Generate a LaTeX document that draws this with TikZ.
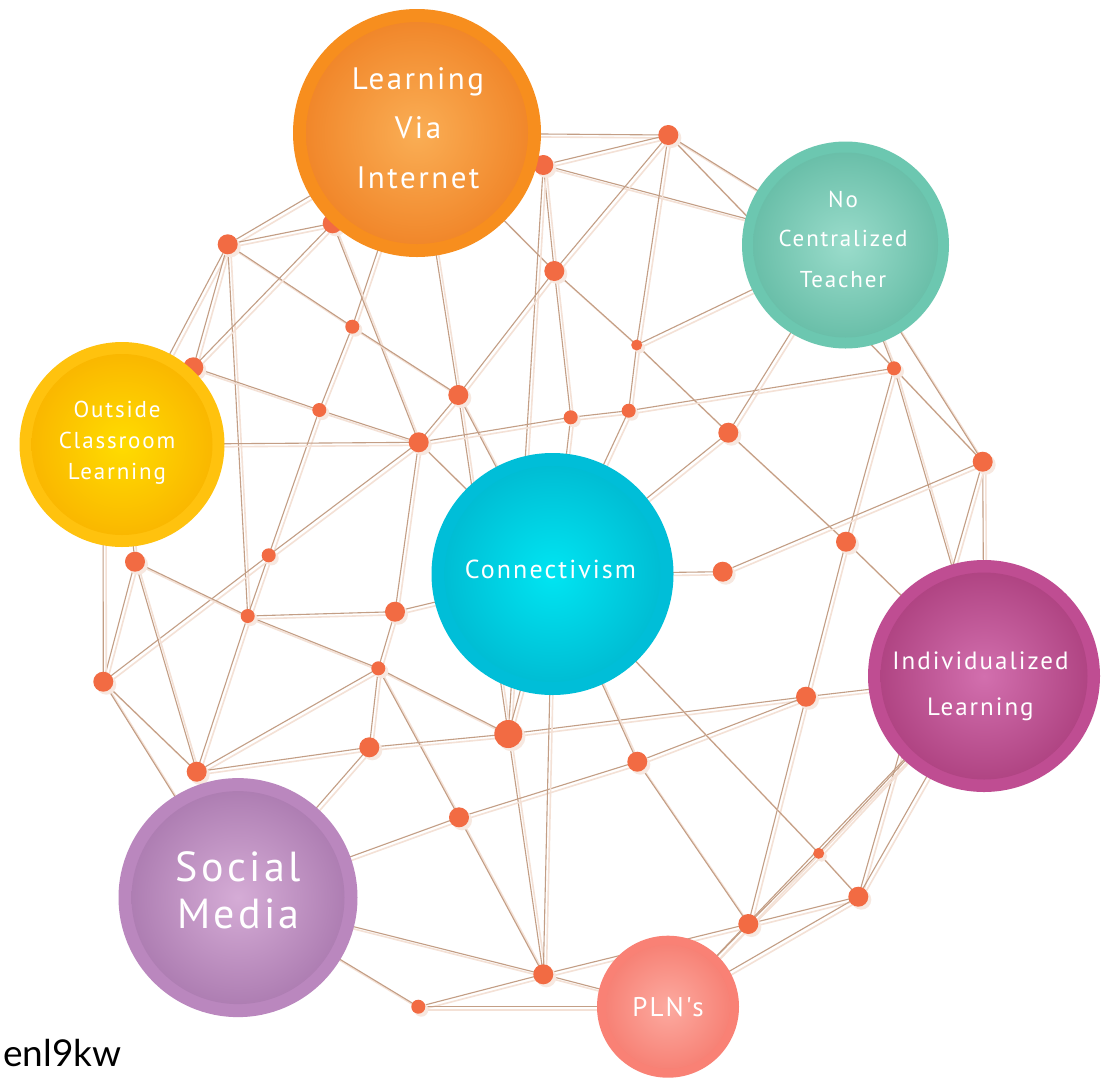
\documentclass[tikz,border=0pt]{standalone}
\usepackage{fontspec}
\setmainfont{PT Sans}
\newfontfamily\labfont[LetterSpace=8]{PT Sans}
\newfontfamily\tagfont{Lato}
\usetikzlibrary{shadows}
\pgfdeclarelayer{links}
\pgfdeclarelayer{balls}
\pgfsetlayers{links,main,balls}

\definecolor{edgec}{HTML}{C39E85}
\definecolor{edgesh}{HTML}{F4E1D6}
\definecolor{dotc}{HTML}{F26B43}
\definecolor{dotsh}{HTML}{F7E8E0}
\definecolor{lviR}{HTML}{F78E1E}\definecolor{lviA}{HTML}{FAAE55}\definecolor{lviB}{HTML}{E86000}
\definecolor{nctR}{HTML}{6CC7B0}\definecolor{nctA}{HTML}{9ADCCB}\definecolor{nctB}{HTML}{3AA287}
\definecolor{oclR}{HTML}{FFC20E}\definecolor{oclA}{HTML}{FFDC00}\definecolor{oclB}{HTML}{F59300}
\definecolor{conR}{HTML}{00BED8}\definecolor{conA}{HTML}{00E5F2}\definecolor{conB}{HTML}{0096B6}
\definecolor{ilR}{HTML}{BF4D92}\definecolor{ilA}{HTML}{D26FAE}\definecolor{ilB}{HTML}{8E1A58}
\definecolor{smR}{HTML}{BA87BE}\definecolor{smA}{HTML}{D5ACD6}\definecolor{smB}{HTML}{87508F}
\definecolor{plnR}{HTML}{F98175}\definecolor{plnA}{HTML}{FCAAA0}\definecolor{plnB}{HTML}{F25A4C}

\pgfdeclareradialshading{lviS}{\pgfpoint{0bp}{0bp}}{color(0bp)=(lviA); color(50bp)=(lviB)}
\pgfdeclareradialshading{nctS}{\pgfpoint{0bp}{0bp}}{color(0bp)=(nctA); color(50bp)=(nctB)}
\pgfdeclareradialshading{oclS}{\pgfpoint{0bp}{0bp}}{color(0bp)=(oclA); color(50bp)=(oclB)}
\pgfdeclareradialshading{conS}{\pgfpoint{0bp}{0bp}}{color(0bp)=(conA); color(50bp)=(conB)}
\pgfdeclareradialshading{ilS}{\pgfpoint{0bp}{0bp}}{color(0bp)=(ilA); color(50bp)=(ilB)}
\pgfdeclareradialshading{smS}{\pgfpoint{0bp}{0bp}}{color(0bp)=(smA); color(50bp)=(smB)}
\pgfdeclareradialshading{plnS}{\pgfpoint{0bp}{0bp}}{color(0bp)=(plnA); color(50bp)=(plnB)}

\tikzset{
  ring/.style={circle, inner sep=0pt, draw=none},
  disc/.style={circle, inner sep=0pt, draw=none},
  lab/.style={text=white, inner sep=0pt, anchor=base},
  dot/.style={circle, fill=dotc, inner sep=0pt, draw=none, minimum size=20pt,
    drop shadow={shadow xshift=3pt, shadow yshift=-3pt, fill=dotsh, opacity=1}},
  sdot/.style={dot, minimum size=14pt},
  xsdot/.style={dot, minimum size=11pt},
  edgeln/.style={draw=edgec, line width=1.1pt},
  shadowln/.style={draw=edgesh, line width=1.6pt},
}

\begin{document}
\begin{tikzpicture}[x=1pt,y=-1pt]
\useasboundingbox (0,0) rectangle (1106,1077);

% small dots
\node[dot]   (d1)  at (227.7,244.3) {};
\node[dot]   (d2)  at (332.7,223.3) {};
\node[dot]   (d3)  at (543.3,165) {};
\node[dot]   (d4)  at (668.3,135) {};
\node[dot]   (d5)  at (554.3,271) {};
\node[sdot]  (d6)  at (352.3,326.7) {};
\node[dot]   (d7)  at (193.3,367.3) {};
\node[dot]   (d8)  at (458.3,395) {};
\node[sdot]  (d9)  at (319.3,410) {};
\node[dot]   (d10) at (418.7,442.3) {};
\node[xsdot] (d11) at (636.7,345) {};
\node[sdot]  (d12) at (570.7,417.3) {};
\node[sdot]  (d13) at (628.7,410.7) {};
\node[dot]   (d14) at (728.3,432.7) {};
\node[sdot]  (d15) at (894,368.3) {};
\node[dot]   (d16) at (982.7,461.7) {};
\node[dot]   (d17) at (846,541.7) {};
\node[dot]   (d18) at (722.7,571.7) {};
\node[dot]   (d19) at (135,561.7) {};
\node[sdot]  (d20) at (268.7,555.3) {};
\node[sdot]  (d21) at (247.7,616) {};
\node[dot]   (d22) at (395,611.7) {};
\node[dot]   (d23) at (103.3,681.7) {};
\node[sdot]  (d24) at (378.3,668.3) {};
\node[dot, minimum size=28pt] (d25) at (508.3,734) {};
\node[dot]   (d26) at (369.3,747.3) {};
\node[dot]   (d27) at (196.7,771.7) {};
\node[dot]   (d28) at (459,817.3) {};
\node[dot]   (d29) at (637.3,761.7) {};
\node[dot]   (d30) at (806,696.7) {};
\node[xsdot] (d31) at (818.7,853.3) {};
\node[dot]   (d32) at (858.3,896.7) {};
\node[dot]   (d33) at (748.3,924) {};
\node[dot]   (d34) at (543.3,974.3) {};
\node[sdot]  (d35) at (418.3,1006.7) {};

\node[font=\tagfont\fontsize{37}{37}\selectfont, anchor=base west, inner sep=0pt] (tag) at (3,1066) {enl9kw};

% big circles
\begin{pgfonlayer}{balls}
\node[ring, fill=lviR, minimum size=248pt] (lvi) at (417,133) {};
\node[disc, shading=lviS, minimum size=222pt] (lviD) at (lvi.center) {};
\node[ring, fill=nctR, minimum size=207pt] (nct) at (845.5,245) {};
\node[disc, shading=nctS, minimum size=185pt] (nctD) at (nct.center) {};
\node[ring, fill=oclR, minimum size=205pt] (ocl) at (122,444.5) {};
\node[disc, shading=oclS, minimum size=181pt] (oclD) at (ocl.center) {};
\node[ring, fill=conR, minimum size=242pt] (con) at (552.5,574) {};
\node[disc, shading=conS, minimum size=216pt] (conD) at (con.center) {};
\node[ring, fill=ilR, minimum size=232pt] (il) at (984,676) {};
\node[disc, shading=ilS, minimum size=207pt] (ilD) at (il.center) {};
\node[ring, fill=smR, minimum size=239pt] (sm) at (238,897.6) {};
\node[disc, shading=smS, minimum size=213pt] (smD) at (sm.center) {};
\node[ring, fill=plnR, minimum size=142pt] (pln) at (668,1006.7) {};
\node[disc, shading=plnS, minimum size=124pt] (plnD) at (pln.center) {};

\tikzset{lviF/.style={font=\labfont\fontsize{31}{31}\selectfont},
  nctF/.style={font=\labfont\fontsize{23}{23}\selectfont},
  oclF/.style={font=\labfont\fontsize{23}{23}\selectfont},
  conF/.style={font=\labfont\fontsize{26}{26}\selectfont},
  ilF/.style={font=\labfont\fontsize{25}{25}\selectfont},
  smF/.style={font=\labfont\fontsize{42}{42}\selectfont},
  plnF/.style={font=\labfont\fontsize{27}{27}\selectfont}}
\node[lab, lviF] (lviT1) at (418,89.7) {Learning};
\node[lab, lviF] (lviT2) at (418,138) {Via};
\node[lab, lviF] (lviT3) at (418,188) {Internet};
\node[lab, nctF] (nctT1) at (843,207) {No};
\node[lab, nctF] (nctT2) at (843,246.6) {Centralized};
\node[lab, nctF] (nctT3) at (843,287) {Teacher};
\node[lab, oclF] (oclT1) at (117,417) {Outside};
\node[lab, oclF] (oclT2) at (117,448) {Classroom};
\node[lab, oclF] (oclT3) at (117,479) {Learning};
\node[lab, conF] (conT1) at (550.5,578) {Connectivism};
\node[lab, ilF] (ilT1) at (980.4,669) {Individualized};
\node[lab, ilF] (ilT2) at (980.4,715.4) {Learning};
\node[lab, smF] (smT1) at (238.4,881.6) {Social};
\node[lab, smF] (smT2) at (238.4,928.5) {Media};
\node[lab, plnF] (plnT1) at (668,1016.6) {PLN's};
\end{pgfonlayer}

% connectors
\begin{pgfonlayer}{links}
\fill[white] (0,0) rectangle (1106,1077);
\foreach \a/\b in {lvi/d1, lvi/d4, lvi/d5, lvi/d6, lvi/d8, lvi/d2, lvi/d3,
  d1/d2, d1/ocl, d1/d7, d1/d21, d1/d6,
  d2/d7, d2/d10,
  d3/d4, d3/nct, d3/d5, d5/d12, d3/d25,
  d4/nct, d4/d15, d4/d11, d11/d13, d4/d5, d5/d8,
  d5/d11, d11/d14, d14/d17, d17/il,
  d6/d8, d6/d9, d7/d9, d9/d10,
  d9/d20, d20/d21, d21/d27,
  d8/d10, d8/con, d8/d25,
  d10/ocl, d10/d12, d12/d13, d13/d15,
  d10/d20, d20/d23,
  d10/d22, d22/d24, d24/d26, d26/sm,
  d10/con, d11/nct, d12/con, d13/con,
  d14/nct, d14/con,
  d15/nct, d15/d17, d15/il, d15/d16,
  d16/nct, d16/il, d16/d18, d18/con, d16/d32,
  d17/d30, d30/d33,
  d19/ocl, d19/d23, d19/d27, d19/d21, d21/d24, d24/d25,
  d21/d22, d22/con,
  d23/d27, d23/sm,
  d24/d27, d24/d28, d28/d34,
  d27/d26, d26/d25, d25/d30, d30/il,
  d25/con, d25/d34,
  sm/d28, d28/d29, d29/d30,
  d29/con, d29/d33,
  con/d31, d31/d32, d33/d31, d31/il,
  d32/il, d32/d33, d32/pln,
  d33/pln, d34/d33,
  d34/con, d34/sm, d34/d35, d34/pln,
  d35/sm, d35/pln, il/pln} {
  \draw[shadowln] ([shift={(3,3)}]\a.center) -- ([shift={(3,3)}]\b.center);
  \draw[edgeln] (\a.center) -- (\b.center);
}
\draw[shadowln] ([shift={(3,3)}]d23.center) -- ([shift={(-16,3)}]ocl.center);
\draw[edgeln] (d23.center) -- ([shift={(-19,0)}]ocl.center);
\end{pgfonlayer}
\end{tikzpicture}
\end{document}
